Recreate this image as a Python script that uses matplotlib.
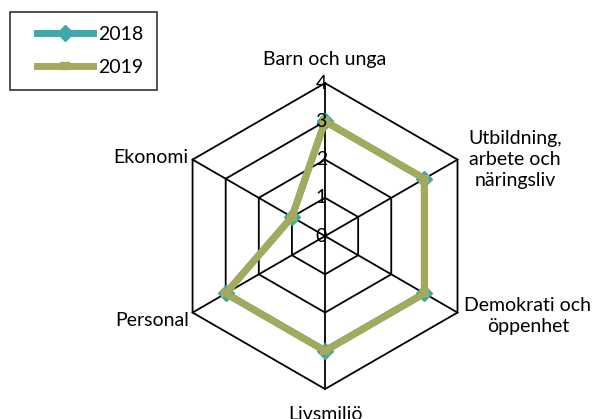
import numpy as np
import matplotlib.pyplot as plt
from matplotlib.lines import Line2D
from matplotlib.legend_handler import HandlerLine2D

plt.rcParams['font.family'] = ['Lato', 'DejaVu Sans']

kategorier = ['Barn och unga', 'Utbildning,\narbete och\nnäringsliv', 'Demokrati och\nöppenhet',
              'Livsmiljö', 'Personal', 'Ekonomi']
v2018 = [3, 3, 3, 3, 3, 1]
v2019 = [3, 3, 3, 3, 3, 1]
ringar = [0, 1, 2, 3, 4]
serier = ['2018', '2019']

teal = '#3FA8AC'
oliv = '#A5A95B'

n = len(kategorier)
vinkel = np.arange(n) * 2 * np.pi / n   # medurs fran toppen
sx = np.sin(vinkel)
sy = np.cos(vinkel)

fig = plt.figure(figsize=(5.95, 4.19), dpi=100)
ax = fig.add_axes([0, 0, 1, 1])
ax.set_xlim(-8.50, 7.06)
ax.set_ylim(-4.78, 6.17)
ax.set_aspect('equal')
ax.axis('off')

rmax = ringar[-1]
# rutnat
for r in ringar[1:]:
    ax.plot(np.append(sx, sx[0]) * r, np.append(sy, sy[0]) * r, color='black', lw=1.3, zorder=1)
for i in range(n):
    ax.plot([0, sx[i] * rmax], [0, sy[i] * rmax], color='black', lw=1.3, zorder=1)

# radiella etiketter
for r in ringar:
    ax.text(0.05, r, str(r), ha='right', va='center', fontsize=14, zorder=5)

# serier
def sluten(v):
    v = np.array(v, dtype=float)
    x = np.append(sx * v, sx[0] * v[0])
    y = np.append(sy * v, sy[0] * v[0])
    return x, y

x18, y18 = sluten(v2018)
x19, y19 = sluten(v2019)
ax.plot(x18, y18, color=teal, lw=5, marker='D', ms=8, zorder=3, label=serier[0])
ax.plot(x19, y19, color=oliv, lw=5, marker='_', ms=7, mew=6, zorder=4, label=serier[1])

# kategorietiketter
fs = 14
ax.text(0, rmax + 0.4, kategorier[0], ha='center', va='bottom', fontsize=fs)
ax.text(sx[1] * rmax + 1.5, sy[1] * rmax, kategorier[1], ha='center', va='center',
        fontsize=fs, linespacing=1.3)
ax.text(sx[2] * rmax + 1.84, sy[2] * rmax - 0.1, kategorier[2], ha='center', va='center',
        fontsize=fs, linespacing=1.3)
ax.text(0, -rmax - 0.45, kategorier[3], ha='center', va='top', fontsize=fs)
ax.text(sx[4] * rmax - 0.1, sy[4] * rmax - 0.2, kategorier[4], ha='right', va='center', fontsize=fs)
ax.text(sx[5] * rmax - 0.1, sy[5] * rmax + 0.05, kategorier[5], ha='right', va='center', fontsize=fs)

leg = ax.legend(loc='upper left', bbox_to_anchor=(10 / 595, 1 - 12 / 419), bbox_transform=fig.transFigure,
                borderaxespad=0, fancybox=False, edgecolor='black', fontsize=14, handlelength=3.55,
                labelspacing=0.85, borderpad=0.7, handletextpad=0.3,
                handler_map={Line2D: HandlerLine2D(xpad=0.7)})
leg.get_frame().set_linewidth(1.2)

fig.savefig('out.png', dpi=100)
